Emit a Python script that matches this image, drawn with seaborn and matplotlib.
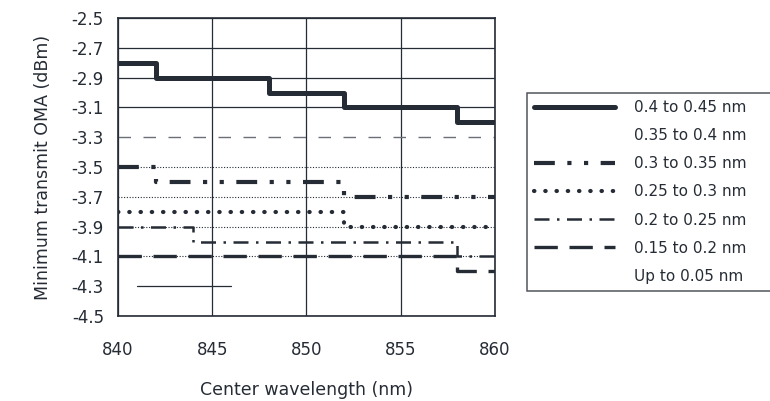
import matplotlib

matplotlib.use("Agg")
import matplotlib.pyplot as plt
import seaborn as sns

# step curves: wavelength breakpoints (nm) and minimum OMA (dBm)
labels = [
    "0.4 to 0.45 nm",
    "0.35 to 0.4 nm",
    "0.3 to 0.35 nm",
    "0.25 to 0.3 nm",
    "0.2 to 0.25 nm",
    "0.15 to 0.2 nm",
    "Up to 0.05 nm",
]
wl_040 = [840, 842, 848, 852, 858, 860]
oma_040 = [-2.8, -2.9, -3.0, -3.1, -3.2, -3.2]
wl_035 = [840, 860]
oma_035 = [-3.3, -3.3]
wl_030 = [840, 842, 852, 860]
oma_030 = [-3.5, -3.6, -3.7, -3.7]
wl_025 = [840, 852, 860]
oma_025 = [-3.8, -3.9, -3.9]
wl_020 = [840, 844, 858, 860]
oma_020 = [-3.9, -4.0, -4.1, -4.1]
wl_015 = [840, 858, 860]
oma_015 = [-4.1, -4.2, -4.2]
wl_005 = [841, 846]
oma_005 = [-4.3, -4.3]

x_ticks = [840, 845, 850, 855, 860]
y_ticks = [-2.5, -2.7, -2.9, -3.1, -3.3, -3.5, -3.7, -3.9, -4.1, -4.3, -4.5]

ink = "#262c35"

sns.set_theme(style="white")
plt.rcParams["font.family"] = ["DejaVu Sans"]
plt.rcParams["axes.unicode_minus"] = False

fig = plt.figure(figsize=(7.7, 4.01), dpi=100)
ax = fig.add_axes([0.153, 0.212, 0.49, 0.743])

series = [
    (wl_040, oma_040, dict(lw=3.6, ls="-")),
    (wl_035, oma_035, dict(lw=1.0, ls=(0, (9, 9)), color="#6b7078")),
    (wl_030, oma_030, dict(lw=3.0, ls=(0, (5, 3, 1, 3, 1, 3)))),
    (wl_025, oma_025, dict(lw=3.0, ls=(0, (0.1, 2.6)), dash_capstyle="round")),
    (wl_020, oma_020, dict(lw=1.8, ls=(0, (6, 3, 1, 3)))),
    (wl_015, oma_015, dict(lw=2.4, ls=(0, (7, 3.5)))),
    (wl_005, oma_005, dict(lw=0.9, ls="-")),
]
for (xs, ys, kw), lab in zip(series, labels):
    kw = dict(kw)
    color = kw.pop("color", ink)
    sns.lineplot(
        x=xs,
        y=ys,
        ax=ax,
        drawstyle="steps-post",
        estimator=None,
        sort=False,
        color=color,
        label=lab,
        **kw,
    )

ax.set_xlim(840, 860)
ax.set_ylim(-4.5, -2.5)
ax.set_xticks(x_ticks)
ax.set_yticks(y_ticks)
ax.set_yticklabels([f"{v:.1f}" for v in y_ticks])

ax.grid(True, color=ink, lw=0.9)
for val, gl in zip(y_ticks, ax.get_ygridlines()):
    if val in (-3.3, -4.3):
        gl.set_visible(False)
    elif -4.2 < val < -3.4:
        gl.set_linestyle((0, (1, 1.5)))
        gl.set_linewidth(0.8)

for sp in ax.spines.values():
    sp.set_color(ink)
    sp.set_linewidth(1.2)
ax.tick_params(axis="both", colors=ink, direction="out", labelsize=12)
ax.tick_params(axis="x", length=10, width=1, pad=8)
ax.tick_params(axis="y", length=6, width=1, pad=4)

ax.set_xlabel("Center wavelength (nm)", fontsize=12.5, color=ink, labelpad=16)
ax.set_ylabel("Minimum transmit OMA (dBm)", fontsize=12.5, color=ink, labelpad=14)

leg = ax.legend(
    loc="center left",
    bbox_to_anchor=(0.684, 0.272, 0.4, 0.499),
    bbox_transform=fig.transFigure,
    mode="expand",
    borderaxespad=0.0,
    fontsize=11,
    handlelength=5.3,
    handletextpad=1.3,
    labelspacing=0.86,
    frameon=True,
    fancybox=False,
    edgecolor=ink,
    borderpad=0.45,
)
leg.get_frame().set_linewidth(1.1)
for t in leg.get_texts():
    t.set_color(ink)
for i in (1, 6):
    leg.get_lines()[i].set_alpha(0.0)

fig.savefig("out.png", dpi=100, facecolor="white")
plt.close(fig)
